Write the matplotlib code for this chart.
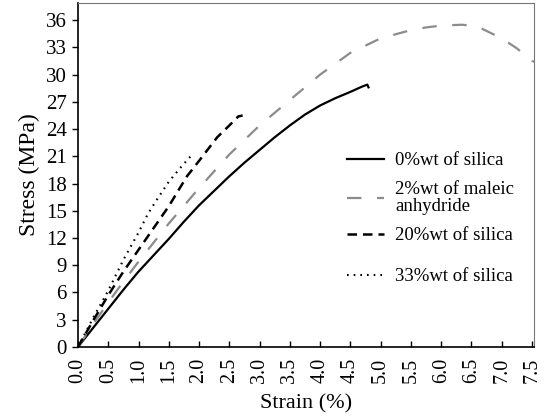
import matplotlib
matplotlib.use("Agg")
import matplotlib.pyplot as plt
import numpy as np

plt.rcParams['font.family'] = ['Liberation Serif', 'DejaVu Serif']

# Data (strain %, stress MPa)
s0_x = [0.0, 0.25, 0.5, 0.75, 1.0, 1.25, 1.5, 1.75, 2.0, 2.25, 2.5, 2.75, 3.0, 3.25, 3.5, 3.75, 4.0, 4.25, 4.5, 4.7, 4.78, 4.8]
s0_y = [0.0, 2.1, 4.2, 6.3, 8.3, 10.1, 11.9, 13.8, 15.6, 17.2, 18.8, 20.3, 21.7, 23.1, 24.4, 25.6, 26.6, 27.4, 28.1, 28.7, 28.9, 28.6]

s2_x = [0.0, 0.25, 0.5, 0.75, 1.0, 1.5, 2.0, 2.5, 3.0, 3.25, 3.5, 4.0, 4.5, 5.0, 5.5, 5.75, 6.0, 6.35, 6.6, 7.0, 7.25, 7.43, 7.5, 7.55]
s2_y = [0.0, 2.5, 4.9, 7.2, 9.4, 13.6, 17.5, 21.2, 24.4, 25.8, 27.2, 30.0, 32.4, 34.0, 34.9, 35.2, 35.4, 35.5, 35.3, 34.0, 32.9, 31.9, 31.5, 31.4]

s20_x = [0.0, 0.25, 0.5, 0.75, 1.0, 1.25, 1.5, 1.8, 2.0, 2.3, 2.5, 2.65, 2.72]
s20_y = [0.0, 2.9, 5.7, 8.3, 10.7, 13.1, 15.5, 18.8, 20.5, 23.1, 24.4, 25.4, 25.5]

s33_x = [0.0, 0.25, 0.5, 0.75, 1.0, 1.15, 1.3, 1.5, 1.7, 1.9]
s33_y = [0.0, 3.2, 6.2, 9.6, 12.6, 14.6, 16.2, 18.2, 19.8, 21.3]

labels = ['0%wt of silica', '2%wt of maleic\nanhydride', '20%wt of silica', '33%wt of silica']
x_ticks = [0.0, 0.5, 1.0, 1.5, 2.0, 2.5, 3.0, 3.5, 4.0, 4.5, 5.0, 5.5, 6.0, 6.5, 7.0, 7.5]
y_ticks = [0, 3, 6, 9, 12, 15, 18, 21, 24, 27, 30, 33, 36]

fig = plt.figure(figsize=(5.5, 4.18), dpi=100)
ax = fig.add_axes([0.1418, 0.170, 0.829, 0.823])

h0, = ax.plot(s0_x, s0_y, color='black', lw=1.6)
h2, = ax.plot(s2_x, s2_y, color='#8c8c8c', lw=1.6, dashes=(6.5, 7))
h20, = ax.plot(s20_x, s20_y, color='black', lw=1.8, dashes=(3.8, 2.4))
h33, = ax.plot(s33_x, s33_y, color='black', lw=1.5, dashes=(0.8, 2.4))

ax.set_xlim(0, 7.533)
ax.set_ylim(0, 37.9)
ax.set_xticks(x_ticks)
ax.set_xticklabels([f'{v:.1f}' for v in x_ticks], rotation=90)
ax.set_yticks(y_ticks)
ax.tick_params(axis='x', direction='in', length=4, labelsize=14.5, pad=8, width=1)
ax.tick_params(axis='y', direction='out', length=4, labelsize=15, width=1, pad=4)

for side in ['top', 'right']:
    ax.spines[side].set_color('#777777')
for side in ['left', 'bottom']:
    ax.spines[side].set_color('black')
    ax.spines[side].set_linewidth(1.2)

ax.set_xlabel('Strain (%)', fontsize=16, labelpad=8)
ax.set_ylabel('Stress (MPa)', fontsize=17, labelpad=4)

common = dict(frameon=False, fontsize=13.5, handlelength=2.0, handletextpad=0.6, borderaxespad=0)
leg1 = ax.legend([h0, h2, h20], labels[:3], loc='upper left', bbox_to_anchor=(0.573, 0.588),
                 labelspacing=0.65, **common)
leg1.get_texts()[1].set_linespacing(0.95)
ax.add_artist(leg1)
leg2 = ax.legend([h33], labels[3:], loc='center left', bbox_to_anchor=(0.573, 0.2035), **common)

fig.savefig('out.png', dpi=100)
